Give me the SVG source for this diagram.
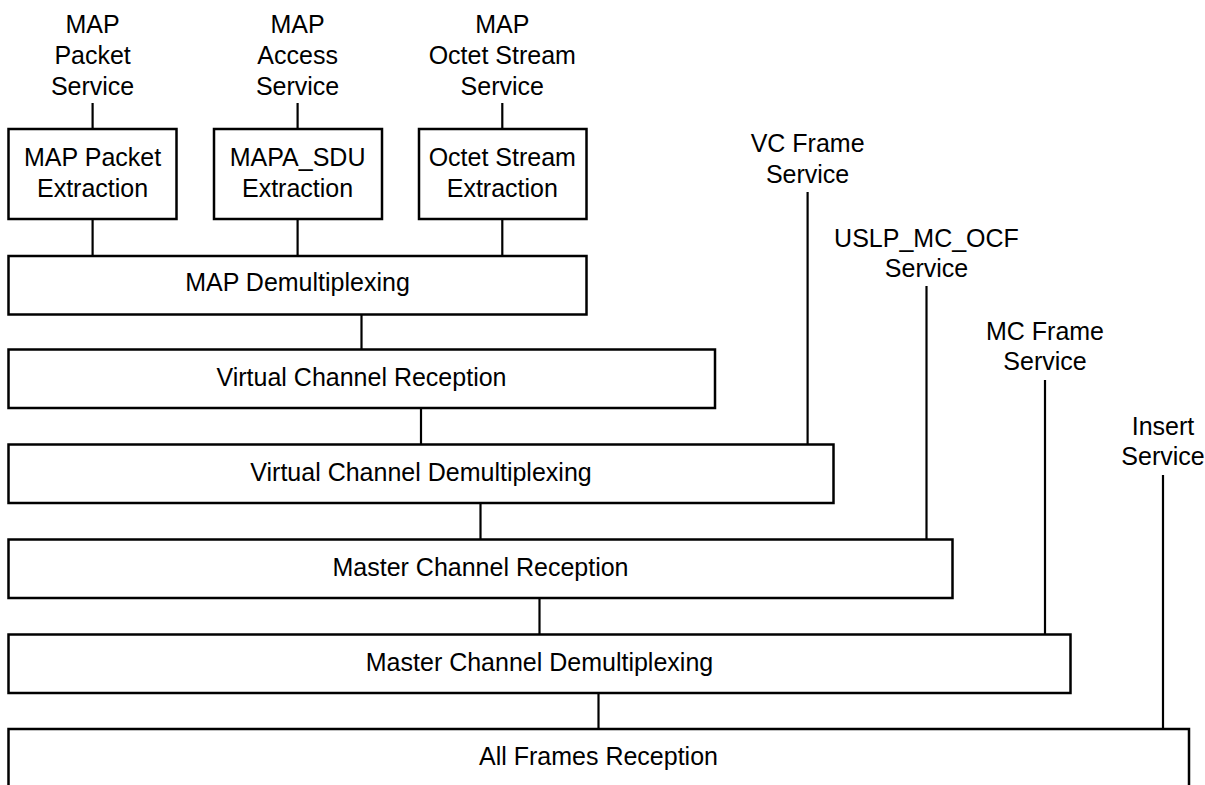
<svg xmlns="http://www.w3.org/2000/svg" width="1205" height="785" viewBox="0 0 1205 785">
<style>
.box{fill:#fff;stroke:#000;stroke-width:2.5}
.ln{stroke:#000;stroke-width:2.2;fill:none}
text{font-family:"Liberation Sans",Arial,sans-serif;font-size:25px;fill:#000;text-anchor:middle}
</style>
<rect width="1205" height="785" fill="#fff"/>
<g id="connectors">
<line class="ln" x1="92.6" y1="103" x2="92.6" y2="129"/>
<line class="ln" x1="297.6" y1="103" x2="297.6" y2="129"/>
<line class="ln" x1="502.3" y1="103" x2="502.3" y2="129"/>
<line class="ln" x1="92.6" y1="219" x2="92.6" y2="256"/>
<line class="ln" x1="297.6" y1="219" x2="297.6" y2="256"/>
<line class="ln" x1="502.3" y1="219" x2="502.3" y2="256"/>
<line class="ln" x1="361.5" y1="314.5" x2="361.5" y2="349.5"/>
<line class="ln" x1="421" y1="408" x2="421" y2="444.5"/>
<line class="ln" x1="480.5" y1="503" x2="480.5" y2="539.5"/>
<line class="ln" x1="539.5" y1="598" x2="539.5" y2="634.5"/>
<line class="ln" x1="598.5" y1="693" x2="598.5" y2="729"/>
<line class="ln" x1="807.6" y1="192" x2="807.6" y2="444.5"/>
<line class="ln" x1="926.5" y1="286" x2="926.5" y2="539.5"/>
<line class="ln" x1="1045" y1="380" x2="1045" y2="634.5"/>
<line class="ln" x1="1163" y1="475" x2="1163" y2="729"/>
</g>
<g id="svc-map-packet"><text x="92.6" y="33">MAP</text><text x="92.6" y="64">Packet</text><text x="92.6" y="95">Service</text></g>
<g id="svc-map-access"><text x="297.6" y="33">MAP</text><text x="297.6" y="64">Access</text><text x="297.6" y="95">Service</text></g>
<g id="svc-map-octet"><text x="502.3" y="33">MAP</text><text x="502.3" y="64">Octet Stream</text><text x="502.3" y="95">Service</text></g>
<g id="map-packet-extraction"><rect class="box" x="8.5" y="129" width="168" height="90"/><text x="92.6" y="166">MAP Packet</text><text x="92.6" y="197">Extraction</text></g>
<g id="mapa-sdu-extraction"><rect class="box" x="214" y="129" width="168" height="90"/><text x="297.6" y="166">MAPA_SDU</text><text x="297.6" y="197">Extraction</text></g>
<g id="octet-stream-extraction"><rect class="box" x="419" y="129" width="167.5" height="90"/><text x="502.3" y="166">Octet Stream</text><text x="502.3" y="197">Extraction</text></g>
<g id="map-demux"><rect class="box" x="8.5" y="256" width="578" height="58.5"/><text x="297.5" y="291">MAP Demultiplexing</text></g>
<g id="vc-reception"><rect class="box" x="8.5" y="349.5" width="706.5" height="58.5"/><text x="361.5" y="386">Virtual Channel Reception</text></g>
<g id="vc-demux"><rect class="box" x="8.5" y="444.5" width="825" height="58.5"/><text x="421" y="481">Virtual Channel Demultiplexing</text></g>
<g id="mc-reception"><rect class="box" x="8.5" y="539.5" width="944" height="58.5"/><text x="480.5" y="576">Master Channel Reception</text></g>
<g id="mc-demux"><rect class="box" x="8.5" y="634.5" width="1062" height="58.5"/><text x="539.5" y="671">Master Channel Demultiplexing</text></g>
<g id="all-frames"><rect class="box" x="8.5" y="729" width="1180.5" height="80"/><text x="598.5" y="765">All Frames Reception</text></g>
<g id="svc-vc-frame"><text x="807.6" y="152">VC Frame</text><text x="807.6" y="183">Service</text></g>
<g id="svc-uslp-mc-ocf"><text x="926.5" y="247">USLP_MC_OCF</text><text x="926.5" y="277">Service</text></g>
<g id="svc-mc-frame"><text x="1045" y="340">MC Frame</text><text x="1045" y="370">Service</text></g>
<g id="svc-insert"><text x="1163" y="435">Insert</text><text x="1163" y="465">Service</text></g>
</svg>
